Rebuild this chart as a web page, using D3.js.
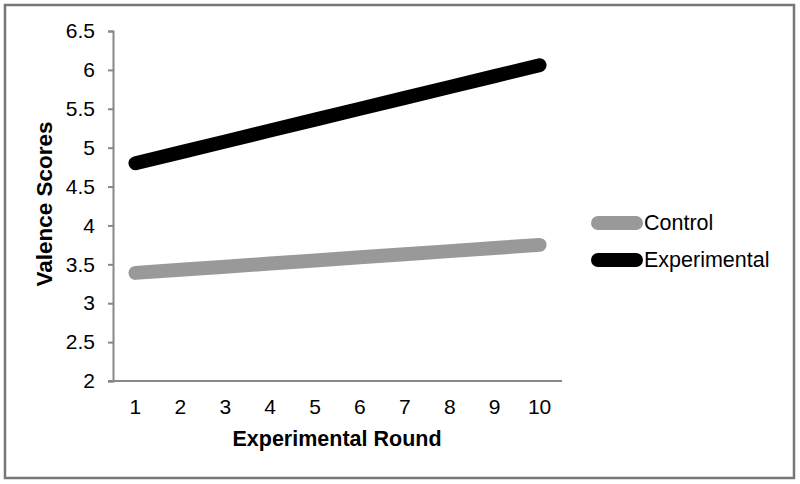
<!DOCTYPE html>
<html>
<head>
<meta charset="utf-8">
<script src="https://cdn.jsdelivr.net/npm/d3@7"></script>
<style>
  body { margin: 0; background: #fff; }
  text { font-family: "Liberation Sans", Arial, sans-serif; }
</style>
</head>
<body>
<svg id="chart" width="800" height="484"></svg>
<script>
const rounds = ["1", "2", "3", "4", "5", "6", "7", "8", "9", "10"];
const controlScores = [3.39, 3.43, 3.47, 3.51, 3.55, 3.59, 3.63, 3.67, 3.71, 3.75];
const experimentalScores = [4.80, 4.94, 5.08, 5.22, 5.36, 5.50, 5.64, 5.78, 5.92, 6.06];
const yTicks = [2, 2.5, 3, 3.5, 4, 4.5, 5, 5.5, 6, 6.5];
const seriesNames = ["Control", "Experimental"];
const seriesColors = ["#999999", "#000000"];

const svg = d3.select("#chart");
const font = '"Liberation Sans", Arial, sans-serif';

// outer frame
svg.append("rect")
    .attr("x", 5).attr("y", 5)
    .attr("width", 789).attr("height", 473)
    .attr("fill", "#fff")
    .attr("stroke", "#777")
    .attr("stroke-width", 2.5);

const plot = {left: 113, right: 562, top: 31, bottom: 381};

const x = d3.scaleBand().domain(rounds).range([plot.left, plot.right]);
const y = d3.scaleLinear().domain([2, 6.5]).range([plot.bottom, plot.top]);

// y axis
const yAxis = svg.append("g")
    .attr("transform", `translate(${plot.left},0)`)
    .call(d3.axisLeft(y).tickValues(yTicks).tickSize(5).tickPadding(13)
        .tickFormat(d => String(d)));
yAxis.select(".domain").attr("stroke", "#888").attr("stroke-width", 2);
yAxis.selectAll(".tick line").attr("stroke", "#888").attr("stroke-width", 2);
yAxis.selectAll(".tick text").attr("font-size", 21).attr("fill", "#000")
    .style("font-family", font);

// x axis
const xAxis = svg.append("g")
    .attr("transform", `translate(0,${plot.bottom})`)
    .call(d3.axisBottom(x).tickSize(0).tickPadding(18));
xAxis.select(".domain").attr("stroke", "#888").attr("stroke-width", 2)
    .attr("d", `M${plot.left - 5},0H${plot.right}`);
xAxis.selectAll(".tick text").attr("font-size", 21).attr("fill", "#000")
    .style("font-family", font);

// axis titles
svg.append("text")
    .attr("x", 337)
    .attr("y", 446)
    .attr("text-anchor", "middle")
    .attr("font-size", 21.5)
    .attr("font-weight", "bold")
    .text("Experimental Round");

svg.append("text")
    .attr("transform", `translate(52,204) rotate(-90)`)
    .attr("text-anchor", "middle")
    .attr("font-size", 22.5)
    .attr("font-weight", "bold")
    .text("Valence Scores");

// lines
const line = d3.line()
    .x((d, i) => x(rounds[i]) + x.bandwidth() / 2)
    .y(d => y(d));

[controlScores, experimentalScores].forEach((vals, i) => {
    svg.append("path")
        .datum(vals)
        .attr("d", line)
        .attr("fill", "none")
        .attr("stroke", seriesColors[i])
        .attr("stroke-width", 14)
        .attr("stroke-linecap", "round");
});

// legend
const legend = svg.append("g").attr("transform", "translate(598,223)");
seriesNames.forEach((name, i) => {
    const g = legend.append("g").attr("transform", `translate(0,${i * 37})`);
    g.append("line")
        .attr("x1", 0).attr("x2", 38)
        .attr("y1", 0).attr("y2", 0)
        .attr("stroke", seriesColors[i])
        .attr("stroke-width", 14)
        .attr("stroke-linecap", "round");
    g.append("text")
        .attr("x", 46)
        .attr("y", 7)
        .attr("font-size", 21.5)
        .text(name);
});
</script>
</body>
</html>
